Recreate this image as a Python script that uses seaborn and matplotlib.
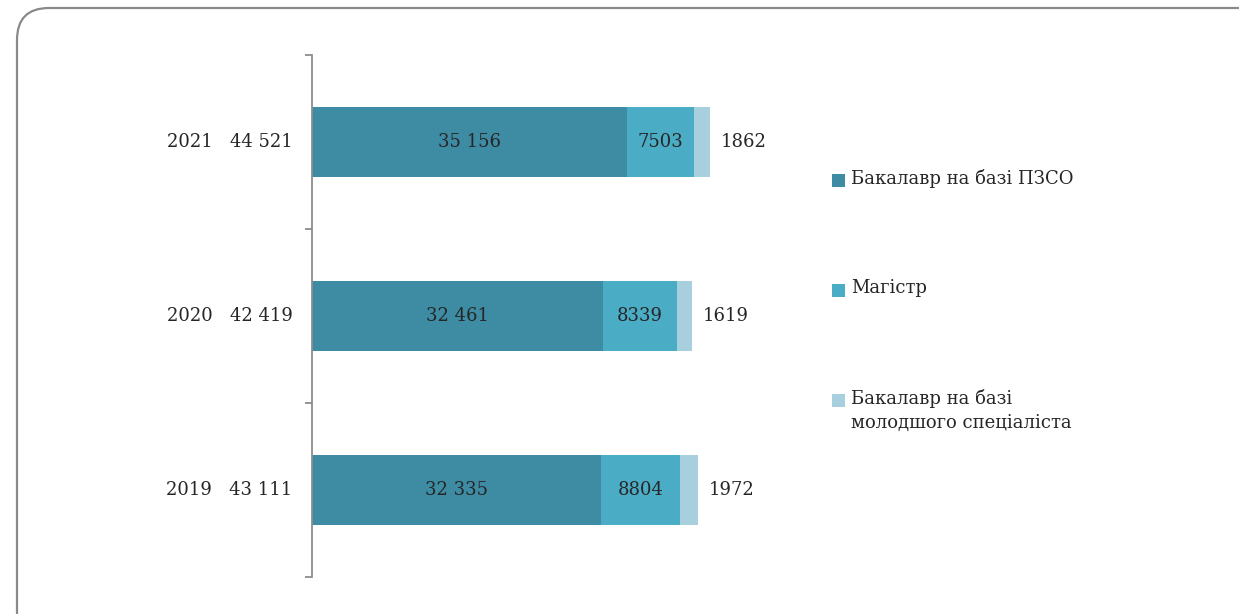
import matplotlib
matplotlib.use("Agg")
import matplotlib.pyplot as plt
from matplotlib.patches import FancyBboxPatch, Rectangle
import numpy as np
import pandas as pd
import seaborn as sns

years = ["2021", "2020", "2019"]
totals = [44521, 42419, 43111]
bachelor_pzso = [35156, 32461, 32335]
master = [7503, 8339, 8804]
bachelor_junior = [1862, 1619, 1972]

series_names = ["Бакалавр на базі ПЗСО", "Магістр", "Бакалавр на базі\nмолодшого спеціаліста"]
colors = ["#3d8ca4", "#4bacc6", "#a8cfdd"]


def fmt(v):
    return f"{v:,}".replace(",", " ") if v >= 10000 else str(v)


sns.set_theme(style="white")
plt.rcParams["font.family"] = ["DejaVu Serif"]

df = pd.DataFrame({
    "year": years,
    "s1": bachelor_pzso,
    "s2": master,
    "s3": bachelor_junior,
})
df["c1"] = df["s1"]
df["c2"] = df["s1"] + df["s2"]
df["c3"] = df["c2"] + df["s3"]

W, H = 1239, 614
fs = 13
fig = plt.figure(figsize=(W / 100, H / 100), dpi=100)
ax = fig.add_axes([312 / W, 37 / H, 500 / W, 522 / H])

# stacked bars drawn as overlapping cumulative layers
for col, c in zip(["c3", "c2", "c1"], colors[::-1]):
    sns.barplot(data=df, x=col, y="year", order=years, color=c,
                width=0.4, saturation=1, ax=ax, orient="h", linewidth=0)

ax.set_xlim(0, 500 / 0.00895)
ax.set_ylim(2.5, -0.5)
ax.set_xlabel("")
ax.set_ylabel("")
ax.set_xticks([])

# boundary ticks on the axis, labels at bar centres
ax.set_yticks([-0.5, 0.5, 1.5, 2.5])
ax.set_yticklabels([])
ax.set_yticks(np.arange(len(years)) - 0.01, minor=True)
ax.set_yticklabels([f"{y}   {fmt(t)}" for y, t in zip(years, totals)], minor=True)
ax.tick_params(axis="y", which="major", direction="out", length=5,
               width=1.3, color="#8c8c8c", left=True)
ax.tick_params(axis="y", which="minor", length=0, pad=14,
               labelsize=fs, labelcolor="#262626")

for side in ["top", "right", "bottom"]:
    ax.spines[side].set_visible(False)
ax.spines["left"].set_color("#8c8c8c")
ax.spines["left"].set_linewidth(1.3)

for i in range(len(years)):
    ax.text(df["s1"][i] / 2, i, fmt(df["s1"][i]), ha="center", va="center",
            fontsize=fs, color="#262626")
    ax.text(df["c1"][i] + df["s2"][i] / 2, i, fmt(df["s2"][i]), ha="center",
            va="center", fontsize=fs, color="#262626")
    ax.text(df["c3"][i] + 1200, i, fmt(df["s3"][i]), ha="left", va="center",
            fontsize=fs, color="#262626")

# legend drawn by hand so the square sits on the first text line
legend_y = [180, 290, 400]
for name, c, y in zip(series_names, colors, legend_y):
    fig.add_artist(Rectangle((832 / W, 1 - (y + 6.5) / H), 13 / W, 13 / H,
                             transform=fig.transFigure, facecolor=c,
                             edgecolor="none"))
    fig.text(851 / W, 1 - (y - 11) / H, name, ha="left", va="top",
             fontsize=fs, color="#262626", linespacing=1.45)

border = FancyBboxPatch((0.17, -0.6), 12.6, 6.66,
                        boxstyle="round,pad=0,rounding_size=0.32",
                        transform=fig.dpi_scale_trans, fill=False,
                        edgecolor="#8a8a8a", linewidth=1.6, clip_on=False)
fig.add_artist(border)

fig.savefig("out.png", dpi=100)
